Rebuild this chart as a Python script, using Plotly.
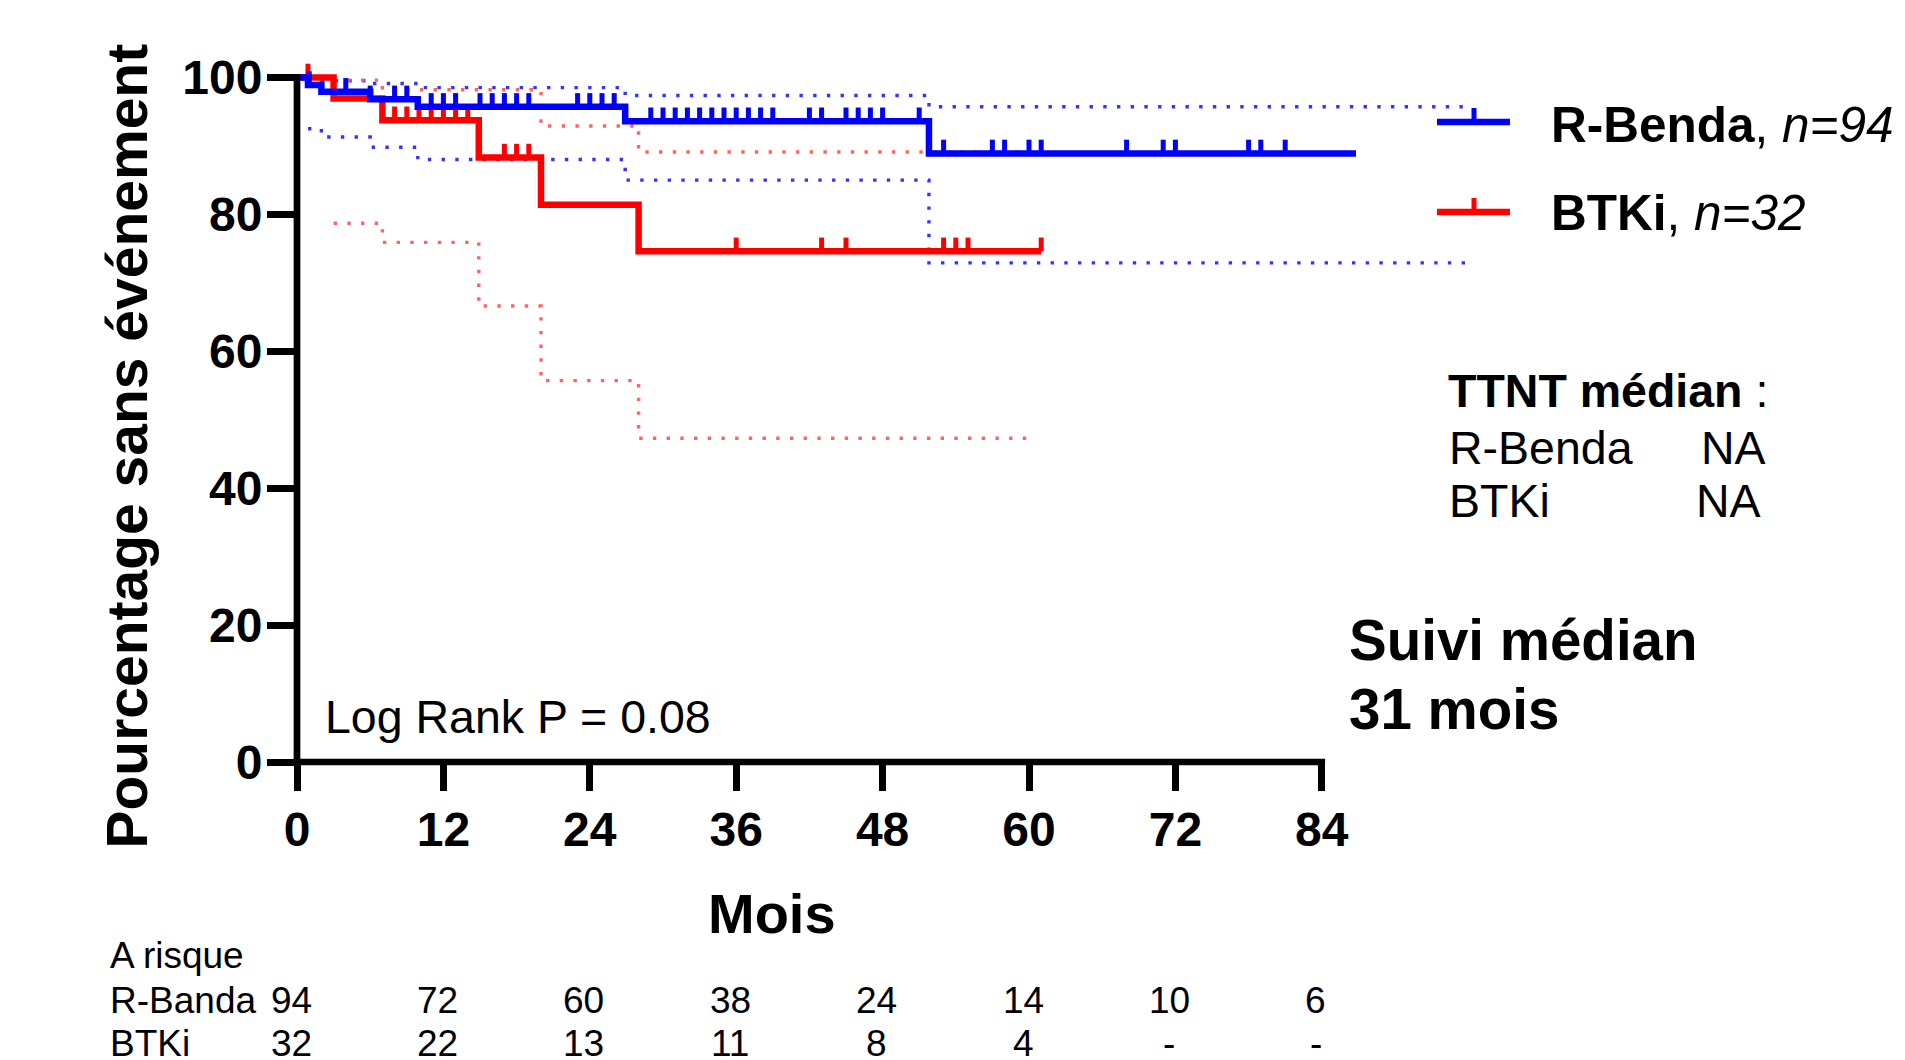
import plotly.graph_objects as go

# ---------------- data ----------------
month_ticks = [0, 12, 24, 36, 48, 60, 72, 84]
pct_ticks = [0, 20, 40, 60, 80, 100]

# R-Benda (blue) Kaplan-Meier steps
rb_time = [0, 0.9, 2.0, 6.0, 9.9, 26.9, 51.8, 86.8]
rb_surv = [100, 98.9, 97.9, 96.8, 95.7, 93.6, 88.9, 88.9]
rb_cens = [1.0, 4.0, 6.0, 8.0, 9.0, 11, 12, 13, 15, 16, 17, 18, 19, 23, 24, 25, 26,
           29, 30, 31, 32, 33, 34, 35, 36, 37, 38, 39, 42, 43, 45, 46, 47, 48, 51,
           53, 57, 58, 60, 61, 68, 71, 72, 78, 79, 81]
rb_up_time = [0, 2.0, 6.0, 9.9, 26.9, 51.8, 96.0]
rb_up = [100, 99.5, 99.1, 98.5, 97.35, 95.7, 95.7]
rb_lo_time = [0.9, 2.0, 6.0, 9.9, 26.9, 51.8, 96.0]
rb_lo = [92.5, 91.3, 89.8, 88.0, 85.0, 72.9, 72.9]

# BTKi (red) Kaplan-Meier steps
bt_time = [0, 3.0, 7.0, 14.9, 20.0, 28.0, 61.0]
bt_surv = [100, 96.9, 93.75, 88.3, 81.4, 74.6, 74.6]
bt_cens = [0.9, 8, 9, 10, 11, 12, 13, 14, 17, 18, 19, 36, 43, 45, 53, 54, 55, 61]
bt_up_time = [3.0, 7.0, 20.0, 28.0, 60.3]
bt_up = [99.6, 98.2, 92.9, 89.1, 89.1]
bt_lo_time = [3.0, 7.0, 14.9, 20.0, 28.0, 60.3]
bt_lo = [78.7, 75.9, 66.6, 55.7, 47.3, 47.3]

risk_rb = ["94", "72", "60", "38", "24", "14", "10", "6"]
risk_bt = ["32", "22", "13", "11", "8", "4", "-", "-"]

# ---------------- style ----------------
BLUE, RED = "#0000FF", "#FF0000"
BLUE_CI, RED_CI = "#3434FF", "#FF6464"
FONT = "Liberation Sans, Arial, sans-serif"
OFF = 8  # page body margin
W, H = 1905 - OFF, 1060 - OFF
PLOT_L, PLOT_R, PLOT_T, PLOT_B = 297, 1517, 50, 762  # page pixels
ML, MT = PLOT_L - OFF, PLOT_T - OFF
MR, MB = W - (PLOT_R - OFF), H - (PLOT_B - OFF)
PW, PH = PLOT_R - PLOT_L, PLOT_B - PLOT_T
X0_PX, Y0_PX = PLOT_L, PLOT_B


def px(x):
    return (x - X0_PX) / PW


def py(y):
    return (Y0_PX - y) / PH


def level(t, times, surv):
    v = surv[0]
    for tt, s in zip(times, surv):
        if tt <= t:
            v = s
    return v


def cens_xy(cens, times, surv, h=2.0):
    xs, ys = [], []
    for t in cens:
        lv = level(t, times, surv)
        xs += [t, t, None]
        ys += [lv, lv + h, None]
    return xs, ys


fig = go.Figure()
dot = "3.4px,10.3px"
for t, s, c in [(rb_up_time, rb_up, BLUE_CI), (rb_lo_time, rb_lo, BLUE_CI),
                (bt_up_time, bt_up, RED_CI), (bt_lo_time, bt_lo, RED_CI)]:
    fig.add_trace(go.Scatter(x=t, y=s, mode="lines", line=dict(color=c, width=3.4, dash=dot, shape="hv"),
                             hoverinfo="skip"))

for t, s, cens, c in [(bt_time, bt_surv, bt_cens, RED), (rb_time, rb_surv, rb_cens, BLUE)]:
    fig.add_trace(go.Scatter(x=t, y=s, mode="lines", line=dict(color=c, width=6.5, shape="hv")))
    cx, cy = cens_xy(cens, t, s)
    fig.add_trace(go.Scatter(x=cx, y=cy, mode="lines", line=dict(color=c, width=5)))

tickfont = dict(family=FONT, size=48, color="black", weight="bold")
fig.update_xaxes(range=[0, 100], tickvals=month_ticks, ticks="outside", ticklen=28, tickwidth=6.5,
                 tickcolor="black", showline=False, showgrid=False, zeroline=False, tickfont=tickfont,
                 ticklabelstandoff=-3)
fig.update_yaxes(range=[0, 104], tickvals=pct_ticks, ticks="outside", ticklen=29, tickwidth=6.5,
                 tickcolor="black", showline=False, showgrid=False, zeroline=False, tickfont=tickfont,
                 ticklabelstandoff=-5)

shapes = []
x84 = X0_PX + 84 * PW / 100
y100 = Y0_PX - 100 * PH / 104
shapes.append(dict(type="line", xref="paper", yref="paper", x0=px(X0_PX - 3.3), x1=px(x84 + 3.3),
                   y0=py(Y0_PX), y1=py(Y0_PX), line=dict(color="black", width=6.7)))
shapes.append(dict(type="line", xref="paper", yref="paper", x0=px(X0_PX), x1=px(X0_PX),
                   y0=py(Y0_PX + 3.3), y1=py(y100 - 3.3), line=dict(color="black", width=6.7)))
for yy, c in [(122, BLUE), (212, RED)]:
    shapes.append(dict(type="line", xref="paper", yref="paper", x0=px(1437), x1=px(1510),
                       y0=py(yy), y1=py(yy), line=dict(color=c, width=6.7)))
    shapes.append(dict(type="line", xref="paper", yref="paper", x0=px(1474), x1=px(1474),
                       y0=py(yy), y1=py(yy - 14), line=dict(color=c, width=5)))
fig.update_layout(shapes=shapes)

ann = []


def text(t, xl, base, size, anchor="left", bold=False):
    ann.append(dict(text=t, x=px(xl), xref="paper", yref="paper",
                    y=py(base - 0.3465 * size), xanchor=anchor, yanchor="middle", showarrow=False,
                    font=dict(family=FONT, size=size, color="black", weight="bold" if bold else "normal")))


text("<b>R-Benda</b>, <i>n=94</i>", 1549, 141.7, 49.5)
text("<b>BTKi</b>, <i>n=32</i>", 1549, 230, 49.5)
text("<b>TTNT médian</b> :", 1446, 407.3, 46.5)
text("R-Benda", 1447, 464.3, 46.5)
text("NA", 1699, 464.3, 46.5)
text("BTKi", 1447, 516.7, 46.5)
text("NA", 1694, 516.7, 46.5)
text("Suivi médian", 1347, 660, 56.5, bold=True)
text("31 mois", 1347, 729, 56.5, bold=True)
text("Log Rank P = 0.08", 323, 733.3, 46.5)
text("Mois", 772, 933, 56, anchor="center", bold=True)
text("A risque", 108, 968, 37)
text("R-Banda", 108, 1013, 37)
text("BTKi", 108, 1056, 37)
for m, a, b in zip(month_ticks, risk_rb, risk_bt):
    for v, base in [(a, 1013), (b, 1056)]:
        ann.append(dict(text=v, x=m, xref="x", yref="paper", y=py(base - 0.3465 * 37), xanchor="center",
                        yanchor="middle", xshift=-6, showarrow=False,
                        font=dict(family=FONT, size=37, color="black")))
ann.append(dict(text="<b>Pourcentage sans événement</b>", x=px(126), y=py(446.5), xref="paper",
                yref="paper", textangle=-90, xanchor="center", yanchor="middle", showarrow=False,
                font=dict(family=FONT, size=57, color="black")))

fig.update_layout(annotations=ann, width=W, height=H, margin=dict(l=ML, r=MR, t=MT, b=MB),
                  plot_bgcolor="white", paper_bgcolor="white", showlegend=False)
fig.write_html("out.html")
